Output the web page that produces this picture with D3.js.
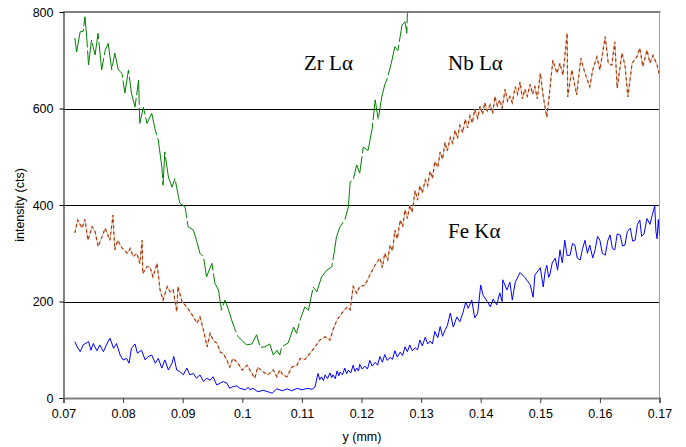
<!DOCTYPE html>
<html><head><meta charset="utf-8">
<script src="https://cdn.jsdelivr.net/npm/d3@7/dist/d3.min.js"></script>
<style>body{margin:0;background:#fff}</style>
</head><body>
<svg id="c" width="686" height="447"></svg>
<script>
// tick values
const xTicks = [0.07,0.08,0.09,0.1,0.11,0.12,0.13,0.14,0.15,0.16,0.17];
const yTicks = [0,200,400,600,800];
// Zr Lα
const zrX = [0.0719,0.0722,0.0728,0.0733,0.0736,0.0739,0.0742,0.0747,0.0753,0.0758,0.0764,0.0770,0.0775,0.0781,0.0786,0.0792,0.0798,0.0803,0.0809,0.0814,0.0820,0.0826,0.0828,0.0834,0.0840,0.0848,0.0854,0.0859,0.0865,0.0867,0.0870,0.0876,0.0882,0.0887,0.0895,0.0904,0.0909,0.0918,0.0923,0.0929,0.0935,0.0940,0.0949,0.0954,0.0960,0.0965,0.0971,0.0977,0.0982,0.0988,0.0993,0.0999,0.1007,0.1016,0.1024,0.1030,0.1038,0.1046,0.1052,0.1058,0.1063,0.1066,0.1077,0.1086,0.1091,0.1097,0.1105,0.1111,0.1119,0.1125,0.1133,0.1142,0.1150,0.1154,0.1158,0.1164,0.1172,0.1178,0.1181,0.1186,0.1192,0.1197,0.1203,0.1211,0.1218,0.1223,0.1228,0.1234,0.1239,0.1244,0.1250,0.1256,0.1261,0.1268,0.1273,0.1276,0.1277,0.1285,0.1293,0.1298];
const zrY = [746,717,759,760,790,748,690,742,711,756,680,721,735,680,715,680,673,632,680,632,603,659,569,603,569,590,555,535,479,441,510,458,437,455,404,396,355,348,327,300,292,251,279,238,224,182,203,182,162,141,127,120,110,112,131,105,106,112,89,99,89,106,114,147,134,162,189,182,230,220,251,265,272,300,334,355,369,396,448,452,483,466,520,513,559,618,577,624,649,665,694,728,720,773,780,756,797,815,800,820];
// Nb Lα
const nbX = [0.0719,0.0724,0.0731,0.0736,0.0741,0.0748,0.0753,0.0758,0.0765,0.0770,0.0778,0.0783,0.0786,0.0791,0.0798,0.0807,0.0812,0.0817,0.0823,0.0828,0.0832,0.0833,0.0840,0.0845,0.0850,0.0857,0.0862,0.0867,0.0874,0.0879,0.0884,0.0890,0.0892,0.0899,0.0907,0.0916,0.0924,0.0929,0.0934,0.0941,0.0946,0.0951,0.0958,0.0963,0.0968,0.0974,0.0979,0.0984,0.0991,0.1000,0.1008,0.1016,0.1021,0.1026,0.1035,0.1043,0.1052,0.1058,0.1063,0.1068,0.1075,0.1083,0.1092,0.1097,0.1105,0.1114,0.1122,0.1130,0.1139,0.1147,0.1152,0.1159,0.1167,0.1176,0.1181,0.1186,0.1192,0.1197,0.1206,0.1214,0.1223,
  0.1231,0.1235,0.1239,0.1244,0.1248,0.1252,0.1256,0.1260,0.1265,0.1269,0.1273,0.1277,0.1281,0.1285,0.1290,0.1294,0.1298,0.1302,0.1307,0.1311,0.1315,0.1319,0.1323,0.1328,0.1332,0.1336,0.1340,0.1344,0.1349,0.1353,0.1357,0.1361,0.1365,0.1370,0.1374,0.1378,0.1382,0.1386,0.1390,0.1395,0.1399,0.1403,0.1407,0.1411,0.1416,0.1420,0.1424,0.1428,0.1432,0.1436,0.1441,0.1445,0.1449,0.1453,0.1458,0.1462,0.1466,0.1470,0.1474,0.1478,0.1483,0.1487,0.1491,0.1495,
  0.1500,0.1505,0.1511,0.1516,0.1521,0.1528,0.1533,0.1538,0.1545,0.1546,0.1553,0.1561,0.1568,0.1575,0.1583,0.1588,0.1595,0.1600,0.1609,0.1614,0.1620,0.1625,0.1629,0.1637,0.1642,0.1647,0.1654,0.1662,0.1667,0.1672,0.1679,0.1684,0.1689,0.1696,0.1699];
const nbY = [342,369,352,370,327,355,345,314,335,352,327,379,307,327,311,300,310,293,300,279,327,258,272,272,251,279,224,203,231,220,224,179,231,199,189,172,155,168,145,106,134,120,113,95,92,79,64,82,75,58,68,51,41,64,54,48,58,44,58,48,44,64,68,82,80,93,106,120,127,120,141,162,176,189,183,231,217,231,234,255,276,
  290,270,300,286,317,305,348,330,369,355,390,372,400,385,430,410,440,425,452,440,470,455,490,478,510,495,530,512,540,528,555,538,565,550,578,560,585,570,598,580,605,588,612,595,608,590,625,605,618,600,640,615,625,612,645,630,655,620,640,625,650,630,645,620,
  673,624,582,638,700,673,694,669,756,624,680,628,704,673,645,680,707,680,749,694,690,738,642,715,690,624,694,707,725,687,721,694,710,690,673];
// Fe Kα
const feX = [0.0719,0.0723,0.0728,0.0733,0.0742,0.0746,0.0750,0.0756,0.0761,0.0767,0.0772,0.0778,0.0784,0.0789,0.0795,0.0800,0.0806,0.0810,0.0814,0.0820,0.0824,0.0831,0.0837,0.0842,0.0848,0.0854,0.0859,0.0865,0.0870,0.0876,0.0882,0.0885,0.0890,0.0895,0.0901,0.0907,0.0912,0.0918,0.0923,0.0929,0.0935,0.0940,0.0946,0.0951,0.0957,0.0963,0.0968,0.0974,0.0979,0.0985,0.0991,0.0996,0.1005,0.1010,0.1013,0.1018,0.1026,0.1035,0.1043,0.1050,0.1058,0.1067,0.1075,0.1083,0.1092,0.1100,0.1109,0.1117,0.1122,
  0.1127,0.1130,0.1133,0.1136,0.1139,0.1143,0.1147,0.1150,0.1152,0.1156,0.1159,0.1162,0.1164,0.1168,0.1172,0.1175,0.1178,0.1182,0.1186,0.1189,0.1192,0.1195,0.1197,0.1201,0.1206,0.1210,0.1214,0.1218,0.1223,0.1227,0.1231,0.1235,0.1239,0.1243,0.1248,0.1252,0.1256,0.1260,0.1265,0.1269,0.1273,0.1277,0.1281,0.1285,0.1290,0.1294,0.1298,0.1302,0.1307,0.1311,0.1315,0.1319,0.1323,0.1328,0.1332,0.1336,0.1340,0.1344,
  0.1349,0.1354,0.1360,0.1365,0.1370,0.1375,0.1379,0.1385,0.1390,0.1395,0.1400,0.1404,0.1411,0.1416,0.1421,0.1427,0.1432,0.1436,0.1437,0.1444,0.1449,0.1453,0.1458,0.1466,0.1474,0.1483,0.1488,0.1491,
  0.1500,0.1503,0.1505,0.1508,0.1511,0.1514,0.1516,0.1520,0.1525,0.1529,0.1533,0.1537,0.1541,0.1545,0.1550,0.1554,0.1558,0.1562,0.1567,0.1571,0.1575,0.1579,0.1583,0.1588,0.1592,0.1596,0.1600,0.1604,0.1609,0.1613,0.1617,0.1621,0.1625,0.1629,0.1634,0.1638,0.1642,0.1646,0.1651,0.1655,0.1659,0.1663,0.1667,0.1670,0.1674,0.1679,0.1684,0.1688,0.1692,0.1694,0.1696,0.1698,0.1700];
const feY = [117,106,96,110,117,99,113,98,110,96,110,124,103,113,89,79,82,72,103,112,93,99,79,86,89,72,82,62,79,58,72,86,58,55,48,62,48,51,41,48,34,41,37,44,27,31,34,31,20,24,25,20,17,22,17,20,13,16,13,10,19,15,19,15,20,17,20,18,23,
  51,38,44,36,48,40,52,42,48,40,56,46,54,48,62,50,58,52,68,55,62,56,70,60,66,60,78,66,74,68,86,74,90,78,84,80,98,85,95,88,106,96,110,98,104,100,120,108,126,112,118,112,138,125,148,128,140,150,
  176,147,168,158,176,199,186,203,166,176,234,213,200,189,205,193,218,200,245,224,240,203,240,260,250,235,209,255,
  270,245,230,262,275,250,255,280,290,265,307,280,327,295,296,320,317,290,286,310,327,300,317,290,307,335,327,300,296,325,338,310,307,340,338,315,317,345,352,325,327,360,369,335,340,372,360,380,398,345,330,370,338];

const svg = d3.select("#c");
const L=63.5, R=659.5, T=12, B=398;
const x = d3.scaleLinear().domain([0.07,0.17]).range([L,R]);
const y = d3.scaleLinear().domain([0,800]).range([B,T]);
const sans = "'Liberation Sans', Arial, sans-serif";
const serif = "'Liberation Serif', 'Times New Roman', serif";

svg.append("defs").append("clipPath").attr("id","clip")
  .append("rect").attr("x",L).attr("y",T).attr("width",R-L).attr("height",B-T);

// grid
svg.append("g").selectAll("line").data([200,400,600]).join("line")
  .attr("x1",L).attr("x2",R).attr("y1",d=>Math.round(y(d))+0.5).attr("y2",d=>Math.round(y(d))+0.5)
  .attr("stroke","#000").attr("stroke-width",1);
// top border
svg.append("line").attr("x1",L).attr("x2",R+1).attr("y1",y(800)).attr("y2",y(800))
  .attr("stroke","#808080").attr("stroke-width",2);
// right border
svg.append("line").attr("x1",R).attr("x2",R).attr("y1",T).attr("y2",B)
  .attr("stroke","#a0a0a0").attr("stroke-width",1);

// y axis
const ya = svg.append("g").attr("transform",`translate(${L},0)`)
  .call(d3.axisLeft(y).tickValues(yTicks).tickSize(4).tickPadding(6).tickFormat(d3.format("d")));
ya.select(".domain").attr("stroke","#000");
ya.selectAll(".tick line").attr("stroke","#000");
ya.selectAll("text").attr("font-family",sans).attr("font-size",12.5).attr("fill","#000");

// x axis
const xa = svg.append("g").attr("transform",`translate(0,${B})`)
  .call(d3.axisBottom(x).tickValues(xTicks).tickSize(5).tickPadding(6).tickFormat(d=>String(+d.toFixed(2))));
xa.select(".domain").attr("stroke","#808080").attr("stroke-width",2);
xa.selectAll(".tick line").attr("stroke","#404040");
xa.selectAll("text").attr("font-family",sans).attr("font-size",12.5).attr("fill","#000");

// axis titles
svg.append("text").attr("x",362).attr("y",441).attr("text-anchor","middle")
  .attr("font-family",sans).attr("font-size",12.5).text("y (mm)");
svg.append("text").attr("transform","translate(24,205) rotate(-90)").attr("text-anchor","middle")
  .attr("font-family",sans).attr("font-size",12.5).text("intensity (cts)");

const g = svg.append("g").attr("clip-path","url(#clip)");
const line = d3.line().x(d=>x(d[0])).y(d=>y(d[1]));
const zr = zrX.map((v,i)=>[v,zrY[i]]);
const nb = nbX.map((v,i)=>[v,nbY[i]]);
const fe = feX.map((v,i)=>[v,feY[i]]);

g.append("path").attr("d",line(fe)).attr("fill","none").attr("stroke","#0000ff").attr("stroke-width",1);
g.append("path").attr("d",line(nb)).attr("fill","none").attr("stroke","#e6b093").attr("stroke-width",1);
g.append("path").attr("d",line(nb)).attr("fill","none").attr("stroke","#a8380a").attr("stroke-width",1.2).attr("stroke-dasharray","3,3");
g.append("path").attr("d",line(zr)).attr("fill","none").attr("stroke","#008000").attr("stroke-width",1).attr("stroke-dasharray","40,3");

// series labels
const lab = [["Zr L\u03b1",304,70],["Nb L\u03b1",448,70],["Fe K\u03b1",448,238]];
svg.append("g").selectAll("text").data(lab).join("text")
  .attr("x",d=>d[1]).attr("y",d=>d[2]).attr("font-family",serif).attr("font-size",21)
  .attr("fill","#000").text(d=>d[0]);
</script>
</body></html>
